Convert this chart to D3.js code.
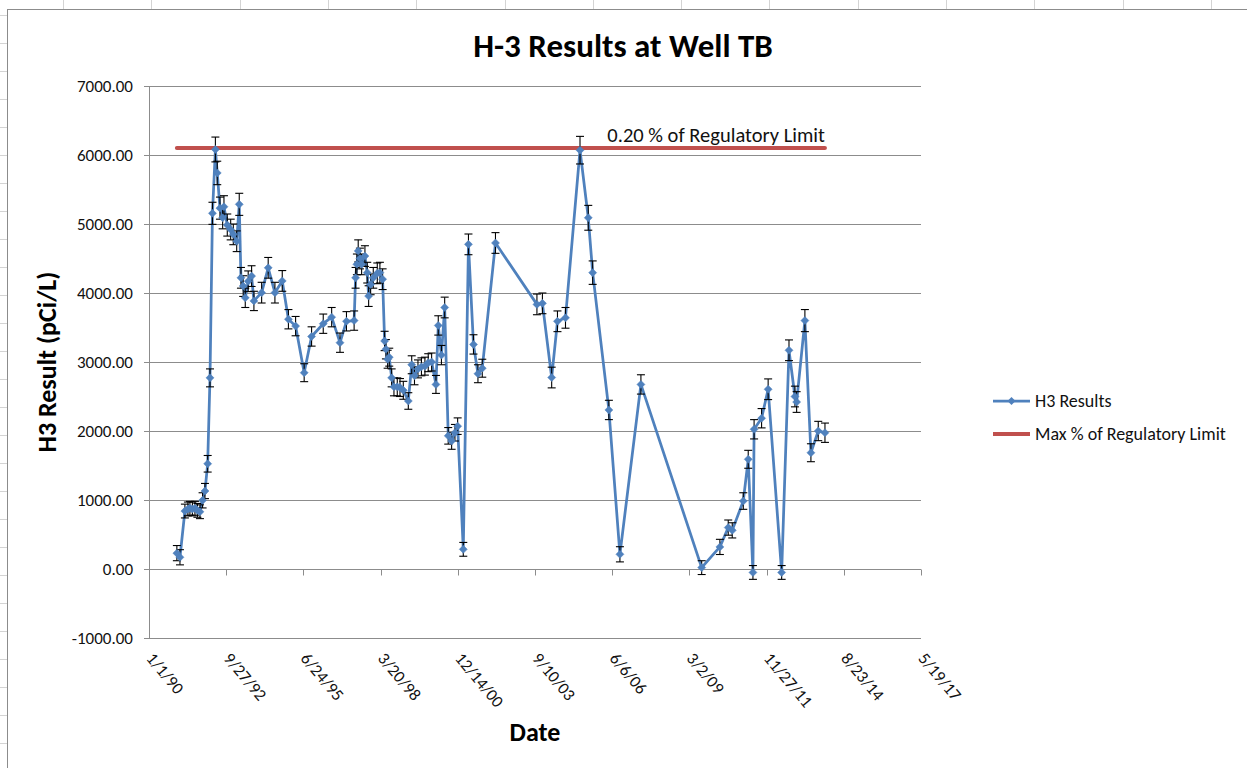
<!DOCTYPE html>
<html>
<head>
<meta charset="utf-8">
<script src="https://cdn.jsdelivr.net/npm/d3@7"></script>
<style>
  body { margin: 0; background: #fff; }
  svg { display: block; font-family: Carlito, Lato, "Liberation Sans", sans-serif; }
</style>
</head>
<body>
<svg id="chart" width="1247" height="768"></svg>
<script>
// H3 sample dates and results in pCi/L
const sampleDates = [
  "12/28/90", "2/6/91", "4/11/91", "5/20/91", "6/15/91", "7/17/91", "8/19/91", "9/20/91", "10/23/91", "11/26/91",
  "12/27/91", "1/31/92", "3/1/92", "4/2/92", "5/10/92", "6/3/92", "7/8/92", "8/12/92", "8/29/92", "10/11/92",
  "11/24/92", "12/28/92", "2/10/93", "3/15/93", "4/6/93", "5/5/93", "6/1/93", "7/9/93", "8/22/93", "9/21/93",
  "12/30/93", "3/25/94", "6/20/94", "9/23/94", "12/12/94", "3/15/95", "7/4/95", "10/8/95", "3/7/96", "6/24/96",
  "10/10/96", "1/2/97", "4/11/97", "4/30/97", "5/17/97", "6/3/97", "6/25/97", "7/17/97", "8/29/97", "9/28/97",
  "10/16/97", "11/11/97", "12/15/97", "2/5/98", "3/11/98", "4/15/98", "5/11/98", "5/28/98", "6/19/98", "7/10/98",
  "8/10/98", "9/9/98", "10/22/98", "11/26/98", "1/8/99", "3/14/99", "4/27/99", "6/2/99", "7/17/99", "8/31/99",
  "10/15/99", "11/27/99", "1/10/00", "3/6/00", "4/5/00", "5/16/00", "6/27/00", "8/12/00", "9/25/00", "11/7/00",
  "12/12/00", "2/23/01", "5/1/01", "7/5/01", "9/1/01", "10/27/01", "4/16/02", "10/5/03", "12/15/03", "4/13/04",
  "6/27/04", "10/9/04", "4/15/05", "7/31/05", "9/26/05", "4/24/06", "9/14/06", "6/13/07", "8/8/09", "4/1/10",
  "7/18/10", "9/8/10", "1/29/11", "4/3/11", "6/3/11", "6/18/11", "9/23/11", "12/17/11", "6/9/12", "9/12/12",
  "11/28/12", "12/20/12", "4/6/13", "6/23/13", "9/26/13", "12/22/13"
];
const h3Results = [
  230, 170, 840, 870, 880, 870, 880, 850, 830, 995,
  1130, 1525, 2770, 5155, 6080, 5740, 5230, 5090, 5250, 4985,
  4920, 4850, 4750, 5285, 4220, 4100, 3930, 4170, 4245, 3885,
  4005, 4365, 4005, 4175, 3620, 3520, 2845, 3370, 3555, 3650,
  3280, 3590, 3600, 4220, 4415, 4610, 4500, 4415, 4535, 4295,
  3955, 4125, 4220, 4285, 4295, 4200, 3305, 3185, 3040, 3070,
  2770, 2640, 2640, 2630, 2590, 2435, 2960, 2800, 2900, 2930,
  2940, 2990, 3000, 2675, 3530, 3100, 3790, 1930, 1855, 1975,
  2070, 285, 4705, 3255, 2830, 2910, 4725, 3835, 3850, 2775,
  3590, 3640, 6070, 5090, 4295, 2305, 213, 2675, 20, 320,
  600, 560, 985, 1590, -50, 2025, 2185, 2605, -50, 3170,
  2500, 2420, 3600, 1685, 2000, 1975
];
// counting error (+/-)
const h3Errors = [
  110, 110, 100, 100, 100, 100, 100, 100, 100, 110,
  110, 120, 130, 160, 180, 170, 160, 160, 160, 160,
  150, 150, 150, 160, 150, 150, 140, 150, 150, 140,
  150, 150, 150, 150, 140, 140, 130, 140, 140, 140,
  140, 140, 140, 150, 150, 160, 150, 150, 150, 150,
  150, 150, 150, 150, 150, 150, 140, 140, 130, 130,
  130, 130, 130, 130, 130, 120, 130, 130, 130, 130,
  130, 130, 130, 130, 140, 140, 150, 120, 120, 120,
  120, 100, 150, 140, 130, 130, 150, 150, 150, 150,
  150, 150, 200, 180, 170, 140, 110, 140, 100, 110,
  110, 110, 120, 130, 100, 140, 140, 150, 100, 150,
  150, 150, 160, 130, 140, 140
];
// max % of regulatory limit line
const limitDates = ["12/28/90", "12/22/13"];
const limitValues = [6100, 6100];
const limitLabel = "0.20 % of Regulatory Limit";

const yTicks = [-1000, 0, 1000, 2000, 3000, 4000, 5000, 6000, 7000];
const xStart = "1/1/90", xEnd = "5/19/17", xStepDays = 1000;

const parse = d3.timeParse("%m/%d/%y");
const fmt = d3.timeFormat("%-m/%-d/%y");

const svg = d3.select("#chart");
const margin = {top: 86, left: 149, right: 921, bottom: 638};

// spreadsheet backdrop lines peeking out round the chart
const sheet = svg.append("g").attr("stroke", "#d4d4d4").attr("stroke-width", 1);
for (let x = 63; x < 1247; x += 88.3) sheet.append("line").attr("x1", Math.round(x) + .5).attr("x2", Math.round(x) + .5).attr("y1", 0).attr("y2", 9);
for (let y = 15; y < 768; y += 28) sheet.append("line").attr("x1", 0).attr("x2", 7).attr("y1", y + .5).attr("y2", y + .5);

svg.append("rect")
    .attr("x", 7.5).attr("y", 9.5)
    .attr("width", 1300).attr("height", 800)
    .attr("fill", "#fff")
    .attr("stroke", "#8c8c8c");

const x = d3.scaleTime()
    .domain([parse(xStart), parse(xEnd)])
    .range([margin.left, margin.right]);
const y = d3.scaleLinear()
    .domain([-1000, 7000])
    .range([margin.bottom, margin.top]);

const xTicks = d3.range(0, 11).map(i => d3.timeDay.offset(parse(xStart), i * xStepDays));

// gridlines
svg.append("g")
  .selectAll("line")
  .data(yTicks)
  .join("line")
    .attr("x1", margin.left - 5).attr("x2", margin.right)
    .attr("y1", d => Math.round(y(d)) + .5).attr("y2", d => Math.round(y(d)) + .5)
    .attr("stroke", "#8c8c8c");

// y axis
svg.append("line")
    .attr("x1", margin.left + .5).attr("x2", margin.left + .5)
    .attr("y1", margin.top).attr("y2", margin.bottom)
    .attr("stroke", "#8c8c8c");
svg.append("g")
  .selectAll("text")
  .data(yTicks)
  .join("text")
    .attr("x", margin.left - 16)
    .attr("y", d => y(d))
    .attr("dy", "0.35em")
    .attr("text-anchor", "end")
    .attr("font-size", 17)
    .attr("fill", "#111")
    .text(d => d.toFixed(2));

// x axis sits on zero
const y0 = Math.round(y(0)) + .5;
svg.append("g")
  .selectAll("line")
  .data(xTicks)
  .join("line")
    .attr("x1", d => Math.round(x(d)) + .5).attr("x2", d => Math.round(x(d)) + .5)
    .attr("y1", y0).attr("y2", y0 + 6)
    .attr("stroke", "#8c8c8c");
svg.append("g")
  .selectAll("text")
  .data(xTicks)
  .join("text")
    .attr("transform", d => `translate(${x(d) + 1},${margin.bottom + 17}) rotate(50)`)
    .attr("dy", "0.35em")
    .attr("font-size", 17)
    .attr("fill", "#111")
    .text(d => fmt(d));

// titles
svg.append("text")
    .attr("x", 623).attr("y", 57)
    .attr("text-anchor", "middle")
    .attr("font-size", 33).attr("font-weight", "bold")
    .attr("fill", "#000")
    .text("H-3 Results at Well TB");
svg.append("text")
    .attr("x", (margin.left + margin.right) / 2).attr("y", 741)
    .attr("text-anchor", "middle")
    .attr("font-size", 26).attr("font-weight", "bold")
    .text("Date");
svg.append("text")
    .attr("transform", `translate(56,${(margin.top + margin.bottom) / 2}) rotate(-90)`)
    .attr("text-anchor", "middle")
    .attr("font-size", 26).attr("font-weight", "bold")
    .text("H3 Result (pCi/L)");

// regulatory limit line
const limit = limitDates.map((d, i) => ({date: parse(d), value: limitValues[i]}));
const line = d3.line().x(d => x(d.date)).y(d => y(d.value));
svg.append("path")
    .datum(limit)
    .attr("fill", "none")
    .attr("stroke", "#c0504d")
    .attr("stroke-width", 4)
    .attr("stroke-linecap", "round")
    .attr("d", line);
svg.append("text")
    .attr("x", x(limit[1].date)).attr("y", y(limit[1].value) - 6)
    .attr("text-anchor", "end")
    .attr("font-size", 20.5)
    .attr("fill", "#111")
    .text(limitLabel);

// H3 results
const data = sampleDates.map((d, i) => ({date: parse(d), value: h3Results[i], err: h3Errors[i]}));
svg.append("path")
    .datum(data)
    .attr("fill", "none")
    .attr("stroke", "#4f81bd")
    .attr("stroke-width", 2.75)
    .attr("stroke-linejoin", "round")
    .attr("d", line);

const bars = svg.append("g").attr("stroke", "#000").attr("stroke-width", 1.1);
bars.selectAll(".stem")
  .data(data)
  .join("line")
    .attr("x1", d => x(d.date)).attr("x2", d => x(d.date))
    .attr("y1", d => y(d.value - d.err)).attr("y2", d => y(d.value + d.err));
bars.selectAll(".cap")
  .data(data.flatMap(d => [{date: d.date, v: d.value - d.err}, {date: d.date, v: d.value + d.err}]))
  .join("line")
    .attr("x1", d => x(d.date) - 4).attr("x2", d => x(d.date) + 4)
    .attr("y1", d => y(d.v)).attr("y2", d => y(d.v));

const diamond = "M0,-4L4,0L0,4L-4,0Z";
svg.append("g")
  .selectAll("path")
  .data(data)
  .join("path")
    .attr("transform", d => `translate(${x(d.date)},${y(d.value)})`)
    .attr("d", diamond)
    .attr("fill", "#4f81bd")
    .attr("stroke", "#4f81bd")
    .attr("stroke-width", 0.5);

// legend
const legend = svg.append("g").attr("transform", "translate(993,401)");
legend.append("line").attr("x1", 0).attr("x2", 37).attr("stroke", "#4f81bd").attr("stroke-width", 2.75);
legend.append("path").attr("d", diamond).attr("transform", "translate(18.5,0)").attr("fill", "#4f81bd");
legend.append("text").attr("x", 42).attr("dy", "0.35em").attr("font-size", 18).attr("fill", "#111").text("H3 Results");
legend.append("line").attr("x1", 0).attr("x2", 37).attr("y1", 33).attr("y2", 33).attr("stroke", "#c0504d").attr("stroke-width", 4);
legend.append("text").attr("x", 42).attr("y", 33).attr("dy", "0.35em").attr("font-size", 18).attr("fill", "#111").text("Max % of Regulatory Limit");
</script>
</body>
</html>
